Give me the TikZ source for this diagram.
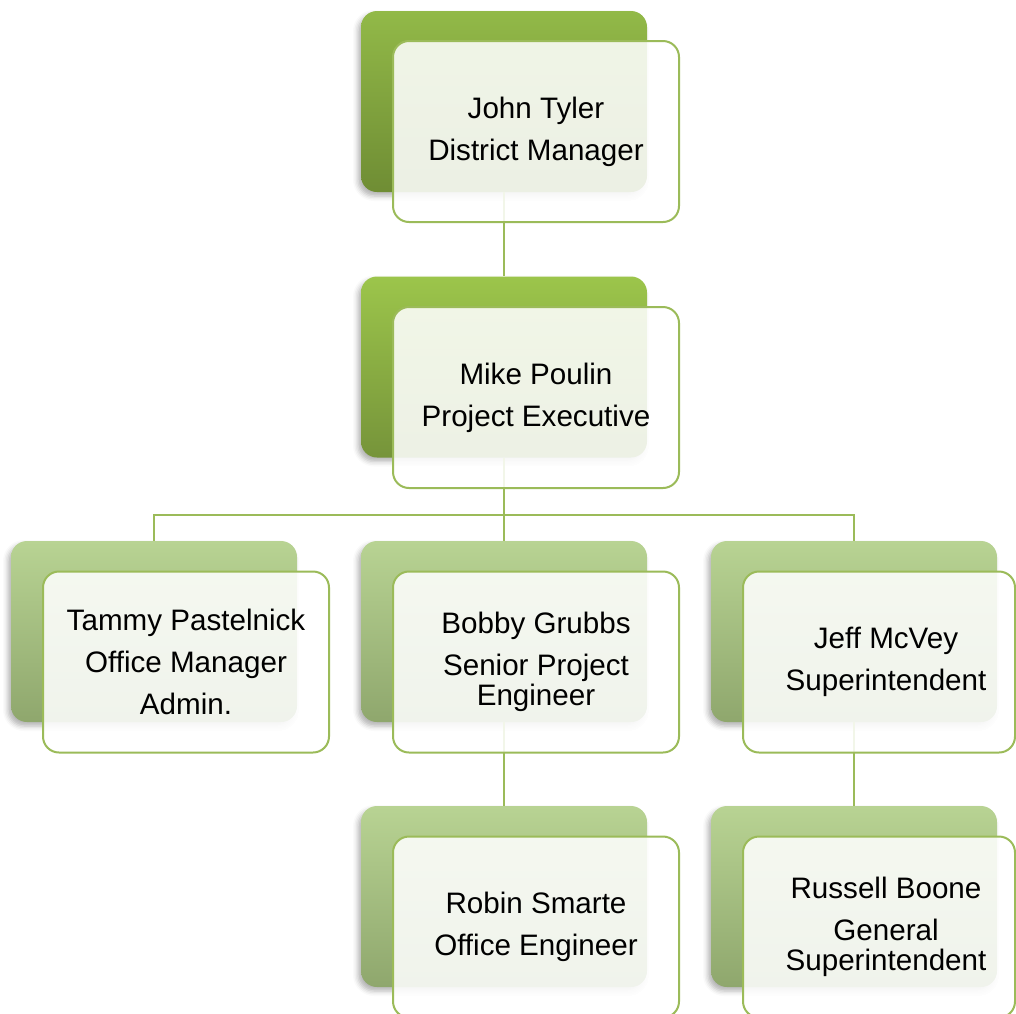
\documentclass[tikz,border=0pt]{standalone}
\usepackage{fontspec}
\setmainfont{Liberation Sans}
\usetikzlibrary{shadows.blur}
\definecolor{topA}{HTML}{92B948}
\definecolor{botA}{HTML}{6F8D34}
\definecolor{topB}{HTML}{9CC54B}
\definecolor{botB}{HTML}{76943A}
\definecolor{topC}{HTML}{B8D393}
\definecolor{botC}{HTML}{8FA76D}
\definecolor{edge}{HTML}{9BBB59}
\tikzset{
  backbox/.style={rounded corners=16pt, minimum width=286pt, minimum height=181pt, inner sep=0pt,
    blur shadow={shadow xshift=-3pt, shadow yshift=-4pt, shadow blur radius=5pt, shadow opacity=30}},
  darkA/.style={backbox, top color=topA, bottom color=botA},
  darkB/.style={backbox, top color=topB, bottom color=botB},
  lightC/.style={backbox, top color=topC, bottom color=botC},
  frontbox/.style={draw=edge, line width=2pt, rounded corners=16pt, fill=white, fill opacity=0.87,
    text opacity=1, minimum width=286pt, minimum height=181pt, inner sep=0pt, align=center,
    font=\fontsize{29.6}{42}\selectfont},
  lbl/.style={align=center, font=\fontsize{29.6}{42}\selectfont, inner sep=0pt},
  link/.style={draw=edge, line width=1.5pt}
}
\begin{document}
\begin{tikzpicture}[x=1pt,y=-1pt]
\useasboundingbox (0,0) rectangle (1016,1013);
% back boxes
\node[darkA]  (b1)  at (504,101.5) {};
\node[darkB]  (b2)  at (504,367) {};
\node[lightC] (b3l) at (154,631.5) {};
\node[lightC] (b3m) at (504,631.5) {};
\node[lightC] (b3r) at (854,631.5) {};
\node[lightC] (b4m) at (504,896.5) {};
\node[lightC] (b4r) at (854,896.5) {};
% connectors
\coordinate (bus) at (504,515);
\draw[link] (b1.south) -- (b2.north);
\draw[link] (b2.south) -- (bus);
\draw[link] (bus) -| (b3l.north);
\draw[link] (bus) -| (b3r.north);
\draw[link] (bus) -- (b3m.north);
\draw[link] (b3m.south) -- (b4m.north);
\draw[link] (b3r.south) -- (b4r.north);
% front boxes
\node[frontbox] (f1)  at (536,131.5) {John Tyler\\District Manager};
\node[frontbox] (f2)  at (536,397.5) {Mike Poulin\\Project Executive};
\node[frontbox] (f3l) at (186,662) {Tammy Pastelnick\\Office Manager\\Admin.};
\node[frontbox] (f3m) at (536,662) {Bobby Grubbs\\Senior Project\\[-12pt]Engineer};
\node[frontbox, minimum width=272pt] (f3r) at (879,662) {};
\node[lbl] (t3r) at (886,662) {Jeff McVey\\Superintendent};
\node[frontbox] (f4m) at (536,927) {Robin Smarte\\Office Engineer};
\node[frontbox, minimum width=272pt] (f4r) at (879,927) {};
\node[lbl] (t4r) at (886,927) {Russell Boone\\General\\[-12pt]Superintendent};
\end{tikzpicture}
\end{document}
